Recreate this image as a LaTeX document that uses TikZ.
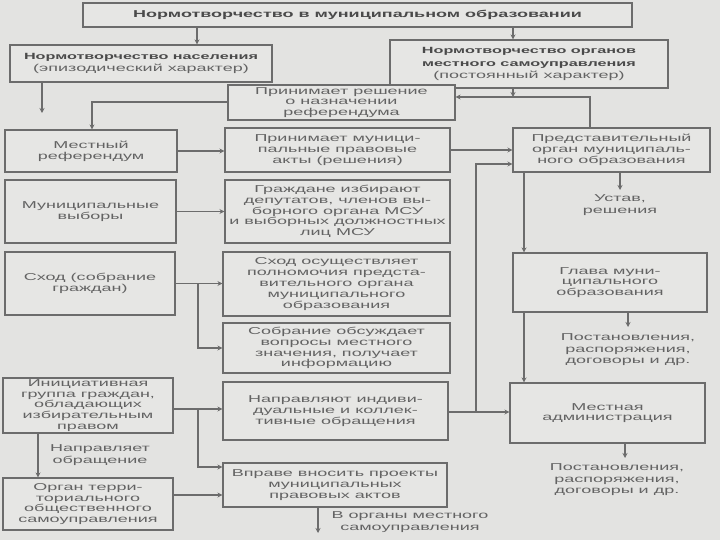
\documentclass[tikz,border=0pt]{standalone}
\usepackage{fontspec}
\setmainfont{Liberation Sans}[FakeStretch=1.8]
\usetikzlibrary{arrows.meta}
\definecolor{bg}{HTML}{E3E3E1}
\definecolor{boxfill}{HTML}{E6E6E4}
\definecolor{ln}{HTML}{6C6C6C}
\definecolor{tx}{HTML}{636363}
\definecolor{btx}{HTML}{4A4A4A}
\newcommand{\hdtext}[1]{{\fontsize{9}{12}\selectfont\textcolor{btx}{\textbf{#1}}}}
\tikzset{
  box/.style={draw=ln, line width=1.1pt, fill=boxfill, inner sep=0pt, align=center,
    text=tx, font=\fontsize{10}{10.8}\selectfont},
  lbl/.style={inner sep=0pt, align=center, text=tx, font=\fontsize{10}{11.5}\selectfont},
  conn/.style={draw=ln, line width=1.1pt},
  arr/.style={conn, -{Stealth[length=5pt,width=5pt]}}
}
\begin{document}
\begin{tikzpicture}[x=1pt,y=-1pt]
\fill[bg] (0,0) rectangle (720,540);
\useasboundingbox (0,0) rectangle (720,540);
% boxes
\node[box, minimum width=549pt, minimum height=24pt] (title) at (357.5,15) {\textcolor{btx}{\textbf{Нормотворчество в муниципальном образовании}}};
\node[box, minimum width=262pt, minimum height=37pt, font=\fontsize{10}{12}\selectfont] (nasel) at (141,63.5) {\hdtext{Нормотворчество населения}\\(эпизодический характер)};
\node[box, minimum width=278pt, minimum height=48pt, font=\fontsize{10}{12.5}\selectfont] (organ) at (529,64) {\hdtext{Нормотворчество органов}\\\hdtext{местного самоуправления}\\(постоянный характер)};
\node[box, minimum width=227pt, minimum height=35pt] (resh) at (341.5,102.5) {Принимает решение\\о назначении\\референдума};
\node[box, minimum width=172pt, minimum height=42pt] (ref) at (91,151) {Местный\\референдум};
\node[box, minimum width=225pt, minimum height=44pt] (akty) at (337.5,150) {Принимает муници-\\пальные правовые\\акты (решения)};
\node[box, minimum width=197pt, minimum height=44pt] (pred) at (611.5,150) {Представительный\\орган муниципаль-\\ного образования};
\node[box, minimum width=171pt, minimum height=63pt] (vyb) at (90.5,211.5) {Муниципальные\\выборы};
\node[box, minimum width=225pt, minimum height=63pt] (grazh) at (337.5,211.5) {Граждане избирают\\депутатов, членов вы-\\борного органа МСУ\\и выборных должностных\\лиц МСУ};
\node[box, minimum width=170pt, minimum height=63pt] (shod) at (90,283.5) {Сход (собрание\\граждан)};
\node[box, minimum width=227pt, minimum height=64pt] (shodos) at (336.5,284) {Сход осуществляет\\полномочия предста-\\вительного органа\\муниципального\\образования};
\node[box, minimum width=227pt, minimum height=50pt] (sobr) at (336.5,348) {Собрание обсуждает\\вопросы местного\\значения, получает\\информацию};
\node[box, minimum width=194pt, minimum height=59pt] (glava) at (610,282.5) {Глава муни-\\ципального\\образования};
\node[box, minimum width=170pt, minimum height=55pt] (init) at (88,405.5) {Инициативная\\группа граждан,\\обладающих\\избирательным\\правом};
\node[box, minimum width=225pt, minimum height=58pt] (napr) at (335.5,411) {Направляют индиви-\\дуальные и коллек-\\тивные обращения};
\node[box, minimum width=195pt, minimum height=60pt] (admin) at (607.5,413) {Местная\\администрация};
\node[box, minimum width=170pt, minimum height=52pt] (tos) at (88,504) {Орган терри-\\ториального\\общественного\\самоуправления};
\node[box, minimum width=224pt, minimum height=44pt] (vprave) at (335,485) {Вправе вносить проекты\\муниципальных\\правовых актов};
% free labels
\node[lbl] (ustav) at (620,205) {Устав,\\решения};
\node[lbl] (post1) at (628,350) {Постановления,\\распоряжения,\\договоры и др.};
\node[lbl] (post2) at (617,480) {Постановления,\\распоряжения,\\договоры и др.};
\node[lbl] (vorg) at (410,522) {В органы местного\\самоуправления};
\node[lbl] (naprl) at (100,455) {Направляет\\обращение};
% free ends
\coordinate (e1) at (42,113);
\coordinate (e2) at (620,190);
\coordinate (e3) at (628,327);
\coordinate (e4) at (625,458);
\coordinate (e5) at (318,533);
\coordinate (j1) at (513,97);
\coordinate (j2) at (476,412);
\coordinate (j3) at (198,283.5);
\coordinate (j4) at (198,409);
% connectors
\draw[arr] (title.south -| 197,0) -- (nasel.north -| 197,0);
\draw[arr] (title.south -| 513,0) -- (organ.north -| 513,0);
\draw[arr] (nasel.south -| e1) -- (e1);
\draw[arr] (organ.south -| j1) -- (j1);
\draw[arr] (pred.north -| 590,0) |- (resh.east |- j1);
\draw[arr] (resh.west |- 0,102) -| (ref.north -| 92,0);
\draw[arr] (ref.east) -- (ref.east -| akty.west);
\draw[arr] (akty.east) -- (akty.east -| pred.west);
\draw[arr] (napr.east |- j2) -- (admin.west |- j2);
\draw[arr] (j2) |- (pred.west |- 0,164);
\draw[arr] (pred.south -| e2) -- (e2);
\draw[arr] (pred.south -| 524,0) -- (glava.north -| 524,0);
\draw[arr] (glava.south -| 524,0) -- (admin.north -| 524,0);
\draw[arr] (glava.south -| e3) -- (e3);
\draw[arr] (admin.south -| e4) -- (e4);
\draw[arr] (vyb.east) -- (vyb.east -| grazh.west);
\draw[arr] (shod.east) -- (shod.east -| shodos.west);
\draw[arr] (j3) |- (sobr.west);
\draw[arr] (init.east |- j4) -- (napr.west |- j4);
\draw[arr] (j4) |- (vprave.west |- 0,467);
\draw[arr] (init.south -| 38,0) -- (tos.north -| 38,0);
\draw[arr] (tos.east |- 0,495) -- (vprave.west |- 0,495);
\draw[arr] (vprave.south -| e5) -- (e5);
\end{tikzpicture}
\end{document}
